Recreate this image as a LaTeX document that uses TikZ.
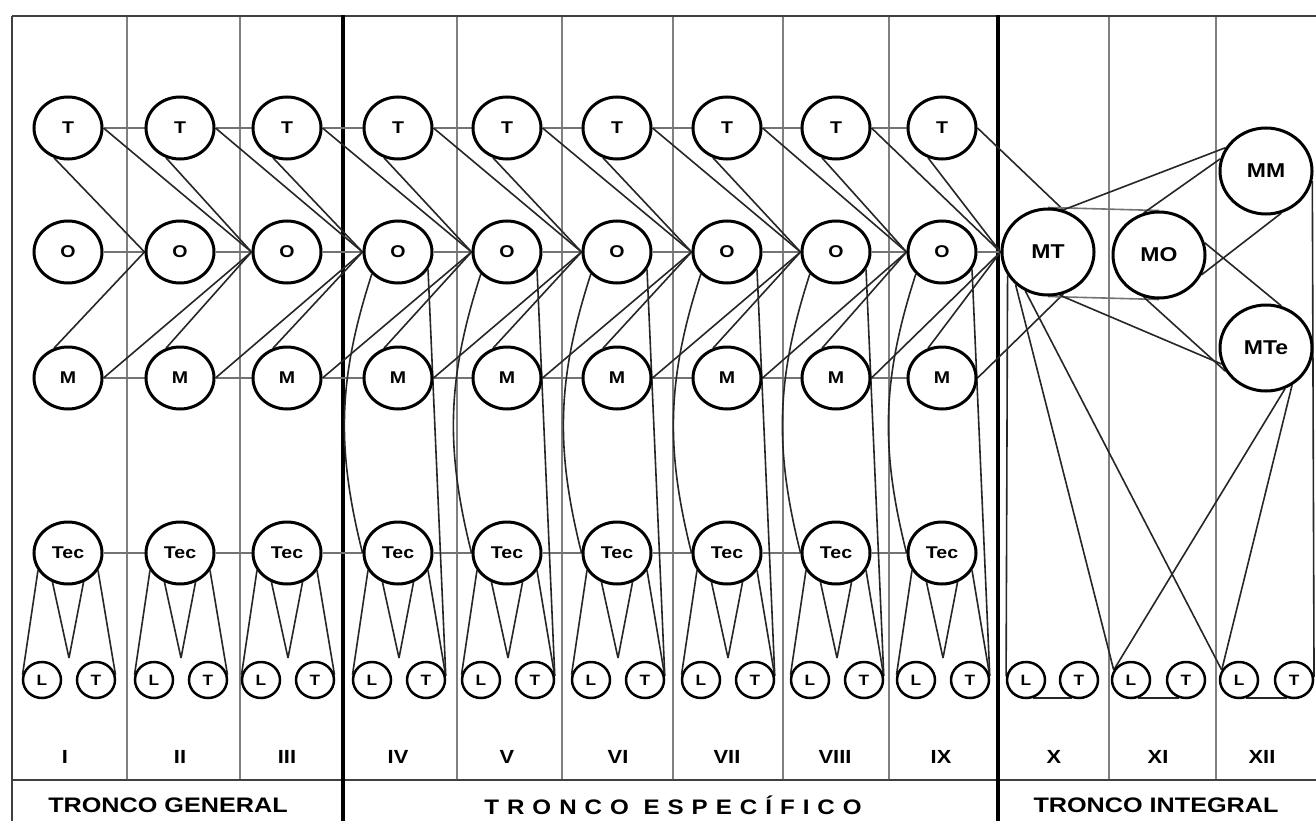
\documentclass[tikz,border=0pt]{standalone}
\usepackage{fontspec}
\setmainfont{Liberation Sans}[FakeStretch=1.15]
\usetikzlibrary{shapes.geometric,calc}
\pgfdeclarelayer{bg}
\pgfsetlayers{bg,main}
\begin{document}
\begin{tikzpicture}[x=1pt,y=-1pt,
  nd/.style={ellipse,draw=black,fill=white,line width=3pt,minimum width=68pt,minimum height=62pt,inner sep=0pt,font=\bfseries\fontsize{17}{17}\selectfont},
  big/.style={nd,minimum width=92pt,minimum height=86pt,font=\bfseries\fontsize{20}{20}\selectfont},
  sm/.style={ellipse,draw=black,fill=white,line width=2.5pt,minimum width=38pt,minimum height=36pt,inner sep=0pt,font=\bfseries\fontsize{15}{15}\selectfont},
  cn/.style={line width=1.6pt,black!85},
  hc/.style={line width=1.6pt,black!55},
  dv/.style={line width=2.4pt,black!50},
  tdv/.style={line width=3.8pt,black},
  fr/.style={line width=2.2pt,black!75},
  lab/.style={font=\bfseries\fontsize{19}{19}\selectfont},
  tr/.style={font=\bfseries\fontsize{21}{21}\selectfont}
]
\useasboundingbox (0,0) rectangle (1316,821);
% ---------- nodes ----------
\foreach \i/\x in {1/68,2/180,3/287,4/398,5/507,6/617,7/727,8/836,9/942} {
  \node[nd] (T\i) at (\x,128) {T};
  \node[nd] (O\i) at (\x,252) {O};
  \node[nd] (M\i) at (\x,378) {M};
  \node[nd] (C\i) at (\x,553) {Tec};
  \node[sm] (L\i) at (\x-26,680) {L};
  \node[sm] (R\i) at (\x+28,680) {T};
  \coordinate (V\i) at (\x+1,658);
}
\foreach \i/\x/\y in {10/1026/1079,11/1131/1186,12/1239/1294} {
  \node[sm] (L\i) at (\x,680) {L};
  \node[sm] (R\i) at (\y,680) {T};
}
\node[big] (MT) at (1048,252) {MT};
\node[big] (MO) at (1159,255) {MO};
\node[big] (MM) at (1266,171) {MM};
\node[big] (MTe) at (1266,348) {MTe};
% ---------- labels ----------
\foreach \n/\t/\x in {n1/I/65,n2/II/180,n3/III/287,n4/IV/398,n5/V/507,n6/VI/618,n7/VII/727,n8/VIII/835,n9/IX/941,n10/X/1054,n11/XI/1158,n12/XII/1262}
  \node[lab] (\n) at (\x,757) {\t};
\node[tr] (tg) at (168,805) {\addfontfeatures{FakeStretch=1.2}TRONCO GENERAL};
\node[tr] (te) at (673,805) {\addfontfeatures{LetterSpace=38}TRONCO ESPECÍFICO};
\node[tr] (ti) at (1156,805) {\addfontfeatures{FakeStretch=1.2}TRONCO INTEGRAL};
% ---------- background: frame, dividers, connectors ----------
\begin{pgfonlayer}{bg}
  \fill[white] (0,0) rectangle (1316,821);
  \draw[fr] (12,16) -- (1316,16);
  \draw[fr] (12,16) -- (12,821);
  \draw[fr] (12,780) -- (1316,780);
  \foreach \x in {127,240,457,562,673,783,889,1109,1216}
    \draw[dv] (\x,17) -- (\x,779);
  \foreach \x in {343,998}
    \draw[tdv] (\x,15) -- (\x,821);
  % horizontal chains
  \foreach \i [evaluate=\i as \j using int(\i+1)] in {1,...,8} {
    \draw[hc] (T\i) -- (T\j);
    \draw[hc] (O\i) -- (O\j);
    \draw[hc] (M\i) -- (M\j);
    \draw[hc] (C\i) -- (C\j);
    \draw[cn] (T\i.-115) -- (O\j.west);
    \draw[cn] (M\i.115) -- (O\j.west);
  }
  \draw[hc] (O9) -- (MT);
  \foreach \i [evaluate=\i as \k using int(\i+2)] in {1,...,7} {
    \draw[cn] (T\i.east) -- (O\k.west);
    \draw[cn] (M\i.east) -- (O\k.west);
  }
  \draw[cn] (T8.east) -- (MT.west);
  \draw[cn] (M8.east) -- (MT.west);
  \draw[cn] (T9.-115) -- (MT.west);
  \draw[cn] (M9.115) -- (MT.west);
  \draw[cn] (T9.east) -- (MT.70);
  \draw[cn] (M9.east) -- (MT.-70);
  % Tec to L and T
  \foreach \i in {1,...,9} {
    \draw[cn] (C\i.-150) -- (L\i.165);
    \draw[cn] (C\i.-30) -- (R\i.15);
    \draw[cn] (C\i.-118) -- (V\i);
    \draw[cn] (C\i.-62) -- (V\i);
  }
  % long lines in the specific trunk
  \foreach \i in {4,...,9} {
    \draw[cn] (O\i.-140) to[bend right=16] (C\i.west);
    \draw[cn] (O\i.-30) -- (R\i.12);
  }
  % integral trunk
  \draw[hc] (MT.north) -- (MO.north);
  \draw[hc] (MT.south) -- (MO.south);
  \draw[cn] (MT.70) -- (MM.150);
  \draw[cn] (MO.110) -- (MM.165);
  \draw[cn] (MM.-70) -- (MO.-25);
  \draw[cn] (MO.15) -- (MTe.70);
  \draw[cn] (MT.-75) -- (MTe.-160);
  \draw[cn] (MO.-110) -- (MTe.-150);
  \draw[cn] (MT.-150) -- (L10.170);
  \draw[cn] (MT.-135) -- (L11.150);
  \draw[cn] (MT.-120) -- (L12.150);
  \draw[cn] (MTe.-65) -- (L11.150);
  \draw[cn] (MTe.-55) -- (L12.150);
  \draw[cn] (MM.-12) -- (R12.8);
  \foreach \i in {10,11,12}
    \draw[cn] (L\i.-70) -- (R\i.-110);
\end{pgfonlayer}
\end{tikzpicture}
\end{document}
